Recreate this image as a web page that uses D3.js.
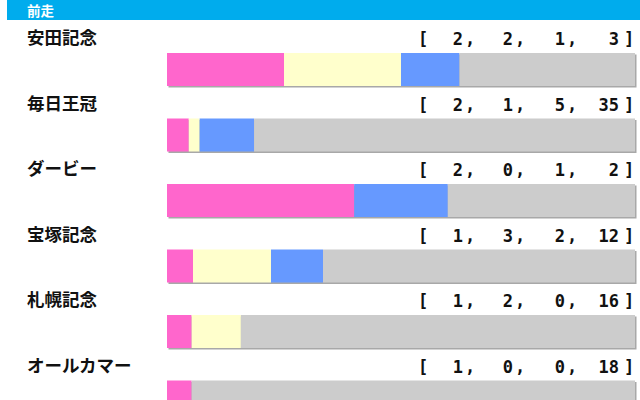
<!DOCTYPE html>
<html>
<head>
<meta charset="utf-8">
<script src="https://cdn.jsdelivr.net/npm/d3@7"></script>
<style>
body { margin: 0; background: #fff; }
</style>
</head>
<body>
<script>
var width = 640, height = 400;

// data
var races = ["安田記念", "毎日王冠", "ダービー", "宝塚記念", "札幌記念", "オールカマー"];
var firsts  = [2, 2, 2, 1, 1, 1];
var seconds = [2, 1, 0, 3, 2, 0];
var thirds  = [1, 5, 1, 2, 0, 0];
var others  = [3, 35, 2, 12, 16, 18];
var colors = ["#ff66cc", "#ffffcc", "#6699ff", "#cccccc"];

var rows = races.map(function(r, i) {
  return { name: r, vals: [firsts[i], seconds[i], thirds[i], others[i]] };
});

var svg = d3.select("body").append("svg")
    .attr("width", width)
    .attr("height", height);

// header
svg.append("rect")
    .attr("x", 7).attr("y", 0)
    .attr("width", width - 7).attr("height", 20)
    .attr("fill", "#00aced");
svg.append("text")
    .attr("x", 27).attr("y", 16)
    .attr("font-family", "Noto Sans CJK JP")
    .attr("font-weight", "bold")
    .attr("font-size", 13.5)
    .attr("fill", "#fff")
    .text("前走");

var y = d3.scaleBand()
    .domain(races)
    .range([20, 20 + 65.5 * races.length]);

var barX0 = 167, barX1 = 635, barH = 33;

var row = svg.selectAll("g.row")
    .data(rows)
    .enter().append("g")
    .attr("class", "row")
    .attr("transform", function(d) { return "translate(0," + y(d.name) + ")"; });

row.append("text")
    .attr("x", 27).attr("y", 24)
    .attr("font-family", "Noto Sans CJK JP")
    .attr("font-weight", "bold")
    .attr("font-size", 17.5)
    .attr("fill", "#111")
    .text(function(d) { return d.name; });

// bracket numbers
var numX = [463, 513, 565, 619];
row.append("text")
    .attr("x", 418).attr("y", 25)
    .attr("font-family", "DejaVu Sans Mono")
    .attr("font-weight", "bold")
    .attr("font-size", 17)
    .attr("fill", "#111")
    .text("[");
row.append("text")
    .attr("x", 624).attr("y", 25)
    .attr("font-family", "DejaVu Sans Mono")
    .attr("font-weight", "bold")
    .attr("font-size", 17)
    .attr("fill", "#111")
    .text("]");
row.each(function(d) {
  var g = d3.select(this);
  d.vals.forEach(function(v, j) {
    g.append("text")
        .attr("x", numX[j]).attr("y", 25)
        .attr("text-anchor", "end")
        .attr("font-family", "DejaVu Sans Mono")
        .attr("font-weight", "bold")
        .attr("font-size", 17)
        .attr("fill", "#111")
        .text(v);
    if (j < 3) {
      g.append("text")
          .attr("x", numX[j] + 2).attr("y", 25)
          .attr("font-family", "DejaVu Sans Mono")
          .attr("font-weight", "bold")
          .attr("font-size", 17)
          .attr("fill", "#111")
          .text(",");
    }
  });

  var total = d3.sum(d.vals);
  var x = d3.scaleLinear().domain([0, total]).range([barX0, barX1]);
  var cum = 0;
  var segs = d.vals.map(function(v, j) {
    var s = { x0: cum, x1: cum + v, c: colors[j] };
    cum += v;
    return s;
  });

  // shadow
  g.append("rect")
      .attr("x", barX0 + 1.5).attr("y", 33 + 1.5)
      .attr("width", barX1 - barX0).attr("height", barH)
      .attr("fill", "#a8a8a8");

  g.selectAll("rect.seg")
      .data(segs.filter(function(s) { return s.x1 > s.x0; }))
      .enter().append("rect")
      .attr("class", "seg")
      .attr("x", function(s) { return x(s.x0); })
      .attr("y", 33)
      .attr("width", function(s) { return x(s.x1) - x(s.x0); })
      .attr("height", barH)
      .attr("fill", function(s) { return s.c; });
});
</script>
</body>
</html>
